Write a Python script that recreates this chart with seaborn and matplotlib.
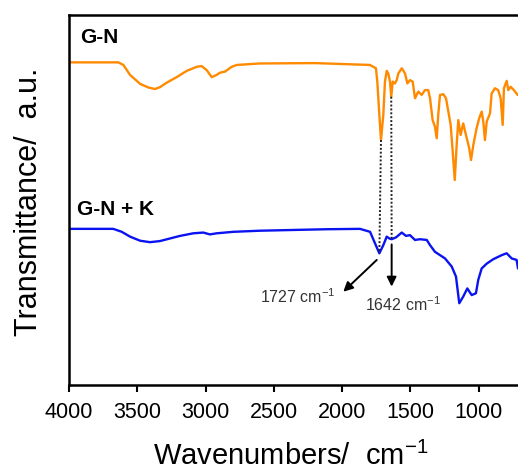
import numpy as np
import pandas as pd
import matplotlib
matplotlib.use("Agg")
import matplotlib.pyplot as plt
import seaborn as sns

# FTIR spectra (wavenumber in cm-1, transmittance in a.u.)
wn_gn = [4000, 3639, 3602, 3553, 3480, 3419, 3370, 3334, 3285, 3212, 3138, 3065,
         3029, 2992, 2955, 2919, 2895, 2858, 2809, 2772, 2602, 2200, 1797, 1753,
         1743, 1728, 1716, 1699, 1687, 1674, 1663, 1650, 1641, 1630,
         1614, 1601, 1589, 1564, 1540, 1523, 1504, 1484, 1467, 1443, 1418, 1394,
         1370, 1357, 1338, 1321, 1308, 1297, 1284, 1260, 1240, 1223, 1206, 1191,
         1176, 1162, 1150, 1133, 1114, 1094, 1070, 1057, 1040, 1016, 997, 979,
         967, 955, 942, 918, 906, 882, 858, 840, 825, 816, 796, 784, 767, 743, 716]
t_gn = [87.2, 87.2, 86.5, 83.8, 81.4, 80.4, 80.0, 80.5, 81.7, 83.2, 84.9, 86.0,
        86.2, 85.1, 83.2, 83.8, 84.4, 84.7, 86.0, 86.5, 86.9, 87.0, 86.5, 85.6,
        82.0, 73.0, 66.2, 73.0, 82.0, 84.9, 84.2, 82.0, 77.9, 82.0,
        81.5, 82.4, 84.2, 85.6, 84.2, 81.5, 82.4, 82.0, 77.5, 79.3, 78.4, 79.7,
        79.7, 77.5, 71.6, 69.8, 66.7, 73.0, 78.4, 78.6, 77.5, 73.9, 70.3, 63.1,
        55.4, 64.9, 71.6, 67.6, 70.7, 67.6, 64.0, 60.8, 64.9, 69.4, 72.1, 73.9,
        71.2, 66.2, 71.2, 73.4, 78.8, 80.2, 79.7, 77.5, 70.3, 80.2, 82.2, 79.7,
        80.6, 79.7, 78.4]

wn_gnk = [4000, 3676, 3614, 3553, 3480, 3407, 3334, 3261, 3187, 3090, 3017, 2968,
          2919, 2797, 2602, 2358, 2114, 1870, 1796, 1760,
          1728, 1699, 1674, 1655, 1638, 1606, 1564, 1533, 1504, 1467, 1431, 1381,
          1357, 1321, 1284, 1247, 1198, 1167, 1143, 1114, 1084, 1052, 1021, 1004,
          979, 942, 894, 832, 796, 759, 723, 713]
t_gnk = [42.2, 42.2, 41.4, 40.1, 39.0, 38.6, 38.9, 39.6, 40.3, 41.0, 41.2, 40.7,
         41.0, 41.4, 41.7, 41.9, 42.1, 42.2, 41.4, 38.3,
         35.6, 37.8, 40.1, 39.6, 39.4, 39.9, 41.2, 40.3, 40.5, 39.2, 39.4, 39.2,
         37.8, 36.0, 35.1, 34.2, 32.0, 29.3, 22.1, 23.9, 26.1, 24.3, 24.8, 28.4,
         31.5, 32.8, 34.0, 35.1, 35.6, 34.2, 33.8, 31.5]

# marked peaks: (position on G-N, position on G-N + K, label)
peak_top = [1716, 1641]
peak_bottom = [1728, 1638]
peak_labels = ["1727", "1642"]
xticks = [4000, 3500, 3000, 2500, 2000, 1500, 1000]

gn = pd.DataFrame({"wn": wn_gn, "t": t_gn})
gnk = pd.DataFrame({"wn": wn_gnk, "t": t_gnk})

sns.set_style("ticks")
plt.rcParams["font.family"] = ["Liberation Sans", "DejaVu Sans"]
plt.rcParams["mathtext.fontset"] = "custom"
plt.rcParams["mathtext.rm"] = "Liberation Sans"
plt.rcParams["mathtext.it"] = "Liberation Sans"
plt.rcParams["text.color"] = "black"
plt.rcParams["xtick.color"] = "black"
plt.rcParams["axes.edgecolor"] = "black"

fig = plt.figure(figsize=(5.18, 4.70), dpi=100)
ax = fig.add_axes([69 / 518, 1 - 385 / 470, 1 - 69 / 518, 370 / 470])

sns.lineplot(data=gn, x="wn", y="t", color="#ff8a00", lw=1.7, estimator=None, ax=ax)
sns.lineplot(data=gnk, x="wn", y="t", color="#0a14f0", lw=1.7, estimator=None, ax=ax)

# dotted guides between the two spectra
t_top = np.interp(peak_top[::-1], wn_gn[::-1], t_gn[::-1])[::-1]
t_bot = np.interp(peak_bottom[::-1], wn_gnk[::-1], t_gnk[::-1])[::-1]
for xa, xb, ya, yb in zip(peak_top, peak_bottom, t_top, t_bot):
    ax.plot([xa, xb], [ya, yb], color="#222222", ls=(0, (1, 1)), lw=1.4)

# arrows + labels
arrow_kw = dict(arrowstyle="-|>", color="black", lw=1.4, mutation_scale=14,
                shrinkA=0, shrinkB=0)
ax.annotate("", xy=(1992, 25.2), xytext=(1747, 33.8), arrowprops=arrow_kw)
ax.annotate("", xy=(1638, 26.6), xytext=(1638, 38.0), arrowprops=arrow_kw)
ax.text(2324, 23.9, peak_labels[0] + r" cm$^{\mathregular{-1}}$", fontsize=11.5,
        color="#333333", ha="center", va="center")
ax.text(1555, 21.6, peak_labels[1] + r" cm$^{\mathregular{-1}}$", fontsize=11.5,
        color="#333333", ha="center", va="center")

ax.text(3920, 94, "G-N", fontsize=15, fontweight="bold", ha="left", va="center")
ax.text(3944, 47.3, "G-N + K", fontsize=15, fontweight="bold", ha="left", va="center")

ax.set_xlim(4000, 713)
ax.set_ylim(0, 100)
ax.set_xticks(xticks)
ax.set_xticklabels([str(v) for v in xticks])
ax.set_yticks([])
ax.set_xlabel("")
ax.set_ylabel("")
ax.tick_params(axis="x", direction="out", length=5, width=1.5, labelsize=15.5, pad=7,
               colors="black")
for side in ["left", "top", "bottom"]:
    ax.spines[side].set_linewidth(1.8)
    ax.spines[side].set_color("black")
ax.spines["right"].set_visible(False)

fig.text(29 / 518, 1 - 202 / 470, "Transmittance/  a.u.", rotation=90,
         fontsize=22, ha="center", va="center")
fig.text(291 / 518, 1 - 465 / 470, r"Wavenumbers/  cm$^{\mathregular{-1}}$",
         fontsize=21, ha="center", va="baseline")

fig.savefig("out.png", dpi=100)
